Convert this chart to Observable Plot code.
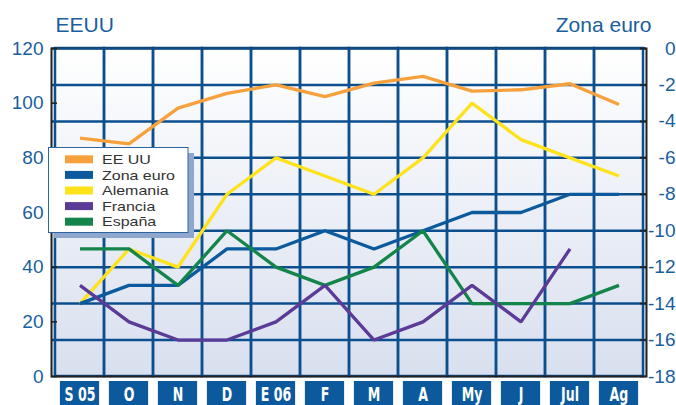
<!DOCTYPE html>
<html>
<head>
<meta charset="utf-8">
<script src="https://cdn.jsdelivr.net/npm/d3@7"></script>
<script src="https://cdn.jsdelivr.net/npm/@observablehq/plot@0.6"></script>
<style>
  html, body { margin: 0; padding: 0; background: #ffffff; }
  #chart svg { display: block; }
</style>
</head>
<body>
<div id="chart"></div>
<script>
// Meses (eje X)
const months = ["S 05", "O", "N", "D", "E 06", "F", "M", "A", "My", "J", "Jul", "Ag"];

// EEUU: eje izquierdo (0–120)
const eeuu = [87.2, 85.1, 98.2, 103.6, 106.7, 102.4, 107.3, 109.8, 104.4, 104.9, 107.1, 99.5];

// Zona euro y países: eje derecho (0 a -18)
const zonaEuro = [-14, -13, -13, -11, -11, -10, -11, -10, -9, -9, -8, -8];
const alemania = [-14, -11, -12, -8, -6, -7, -8, -6, -3, -5, -6, -7];
const francia  = [-13, -15, -16, -16, -15, -13, -16, -15, -13, -15, -11, null];
const espana   = [-11, -11, -13, -10, -12, -13, -12, -10, -14, -14, -14, -13];

// Marcas de los ejes
const leftTicks = [0, 20, 40, 60, 80, 100, 120];
const rightTicks = [0, -2, -4, -6, -8, -10, -12, -14, -16, -18];

// Leyenda
const seriesNames = ["EE UU", "Zona euro", "Alemania", "Francia", "España"];
const seriesColors = ["#f7a13c", "#0b5a9d", "#fde21c", "#5b3b97", "#13844a"];

// Conversión del eje derecho a unidades del eje izquierdo
const toLeft = d3.scaleLinear([-18, 0], [0, 120]);

const seriesDefs = [
  {name: "EE UU", values: eeuu, axis: "left"},
  {name: "Zona euro", values: zonaEuro, axis: "right"},
  {name: "Alemania", values: alemania, axis: "right"},
  {name: "Francia", values: francia, axis: "right"},
  {name: "España", values: espana, axis: "right"}
];

const rows = seriesDefs.flatMap(s => months.map((m, i) => ({
  serie: s.name,
  month: m,
  value: s.values[i] == null ? null : (s.axis === "left" ? s.values[i] : toLeft(s.values[i]))
}))).filter(d => d.value != null);

// Orden de dibujo de las líneas
const drawOrder = ["EE UU", "Alemania", "Zona euro", "España", "Francia"];

const gridColor = "#0c4f8e";
const textBlue = "#1a5e9e";
const W = 676, H = 405;
const mL = 51, mR = 30, mT = 48, mB = 29;
const frameW = W - mL - mR;

const plot = Plot.plot({
  width: W,
  height: H,
  marginLeft: mL,
  marginRight: mR,
  marginTop: mT,
  marginBottom: mB,
  x: {type: "band", domain: months, padding: 0, label: null},
  y: {domain: [0, 120], label: null},
  color: {domain: seriesNames, range: seriesColors},
  style: {fontFamily: "'Liberation Sans', Arial, sans-serif", background: "#ffffff", overflow: "visible"},
  marks: [
    Plot.frame({fill: "url(#fondo)"}),
    // Rejilla horizontal (cada 2 puntos del eje derecho)
    Plot.ruleY(rightTicks.filter(t => t !== 0 && t !== -18).map(toLeft), {stroke: gridColor, strokeWidth: 2.5}),
    // Rejilla vertical (una columna por mes)
    Plot.barY(months, {x: d => d, y1: 0, y2: 120, fill: "none", stroke: gridColor, strokeWidth: 2.5}),
    // Líneas
    ...drawOrder.map(name => Plot.line(rows.filter(d => d.serie === name), {
      x: "month", y: "value", stroke: "serie", strokeWidth: 3.3, strokeLinejoin: "miter", strokeLinecap: "butt"
    })),
    // Marco y ejes
    Plot.frame({stroke: "#222222", strokeWidth: 2}),
    Plot.ruleY([120], {stroke: gridColor, strokeWidth: 2}),
    Plot.ruleY(leftTicks, {stroke: "#222222", strokeWidth: 1.6, insetRight: frameW - 6}),
    Plot.ruleY(rightTicks.map(toLeft), {stroke: "#222222", strokeWidth: 1.6, insetLeft: frameW - 6}),
    Plot.axisY(leftTicks, {
      anchor: "left", label: null, tickSize: 0, tickPadding: 8, fontSize: 19, fill: textBlue,
      tickFormat: d => String(d)
    }),
    Plot.axisY(rightTicks.map(toLeft), {
      anchor: "right", label: null, tickSize: 0, tickPadding: 29, textAnchor: "end", fontSize: 19, fill: textBlue,
      tickFormat: d => String(Math.round(toLeft.invert(d)))
    }),
    Plot.axisX({
      anchor: "bottom", label: null, tickSize: 0, tickPadding: 10, fontSize: 20, fontWeight: "bold", fill: "#ffffff",
      fontFamily: "'Liberation Sans Narrow', 'Arial Narrow', 'DejaVu Sans Condensed', sans-serif"
    }),
    // Títulos de los ejes
    Plot.text(["EEUU"], {frameAnchor: "top-left", textAnchor: "start", lineAnchor: "bottom", dx: 4, dy: -17, fontSize: 21, fill: textBlue}),
    Plot.text(["Zona euro"], {frameAnchor: "top-right", textAnchor: "end", lineAnchor: "bottom", dx: 5, dy: -17, fontSize: 21, fill: textBlue})
  ]
});

document.getElementById("chart").append(plot);

const svg = d3.select(plot);

// Degradado de fondo
const defs = svg.insert("defs", ":first-child");
const grad = defs.append("linearGradient").attr("id", "fondo")
  .attr("x1", 0).attr("y1", 0).attr("x2", 0).attr("y2", 1);
grad.append("stop").attr("offset", "0%").attr("stop-color", "#ffffff");
grad.append("stop").attr("offset", "100%").attr("stop-color", "#d8dfee");

// Recuadros azules de las etiquetas de mes
const x = plot.scale("x");
const labelGroup = plot.querySelector('g[aria-label="x-axis tick label"]');
const boxes = svg.insert("g", () => labelGroup);
const bw = x.bandwidth;
months.forEach(m => {
  const x0 = x.apply(m);
  boxes.append("rect")
    .attr("x", x0 + bw * 0.1)
    .attr("y", H - mB + 5)
    .attr("width", bw * 0.8)
    .attr("height", mB)
    .attr("fill", "#0c5a9d");
});
d3.select(labelGroup).selectAll("text").each(function() {
  const t = d3.select(this);
  const tr = t.attr("transform") || "";
  t.attr("transform", tr + " scale(0.7,1)");
});

// Leyenda
const leg = svg.append("g").attr("text-anchor", "start");
leg.append("rect").attr("x", 54).attr("y", 153).attr("width", 140).attr("height", 85).attr("fill", "#8fa7cf");
leg.append("rect").attr("x", 48.5).attr("y", 147.5).attr("width", 139.5).attr("height", 85)
  .attr("fill", "#ffffff").attr("stroke", "#2b64a0").attr("stroke-width", 1);
seriesNames.forEach((name, i) => {
  const cy = 159.3 + 15.6 * i;
  leg.append("rect").attr("x", 65).attr("y", cy - 4).attr("width", 28).attr("height", 8).attr("fill", seriesColors[i]);
  leg.append("text")
    .attr("transform", `translate(102,${cy + 4.6}) scale(1.23,1)`)
    .attr("text-anchor", "start")
    .style("font-size", "13px")
    .style("font-family", "'Liberation Sans', Arial, sans-serif")
    .attr("fill", "#333333")
    .text(name);
});
</script>
</body>
</html>
